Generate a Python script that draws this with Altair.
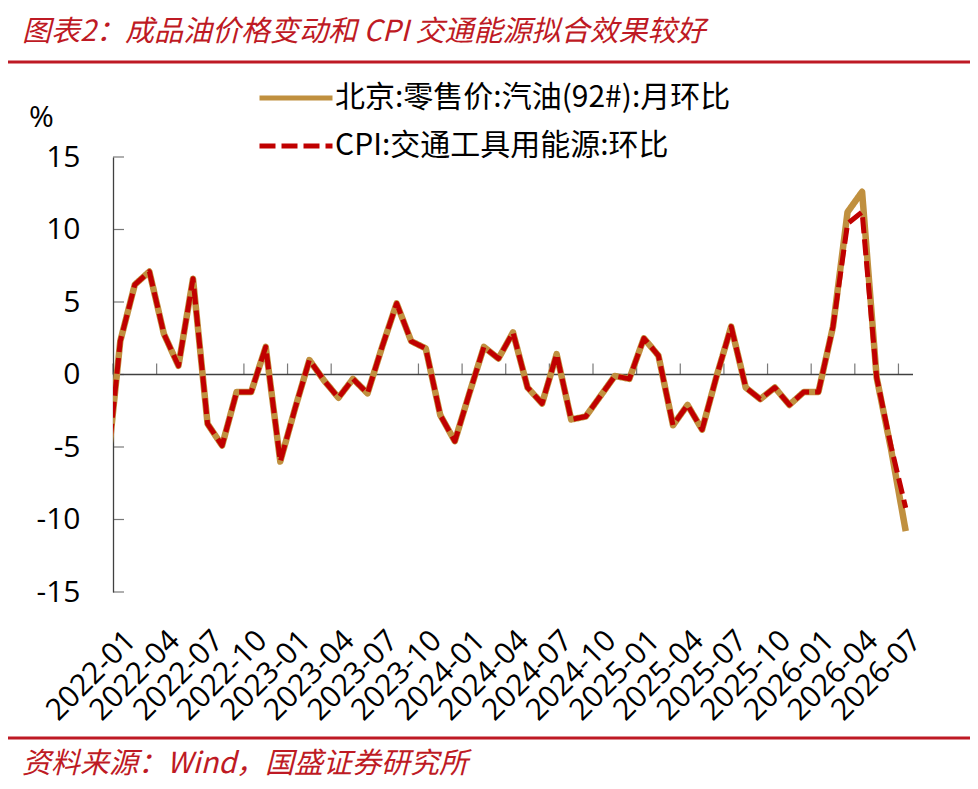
import altair as alt
import pandas as pd

# ---- data ----
months = ["2021-12"] + [f"{y}-{m:02d}" for y in range(2022, 2027) for m in range(1, 13)][:55]

gasoline = [-7.5,
            2.3, 6.2, 7.1, 2.8, 0.6, 6.6, -3.4, -4.9, -1.2, -1.2, 1.9, -6.0,
            -2.4, 1.0, -0.4, -1.6, -0.3, -1.3, 1.9, 4.9, 2.3, 1.8, -2.8, -4.6,
            -1.3, 1.9, 1.1, 2.9, -0.9, -2.0, 1.4, -3.1, -2.9, -1.5, -0.1, -0.3,
            2.5, 1.3, -3.5, -2.1, -3.8, -0.1, 3.3, -0.9, -1.7, -0.9, -2.1, -1.2,
            -1.2, 3.3, 11.2, 12.6, -0.2, -5.2, -10.8]

cpi_energy = [-7.5,
              2.3, 6.2, 7.1, 2.8, 0.6, 6.6, -3.4, -4.9, -1.2, -1.2, 1.9, -6.0,
              -2.4, 1.0, -0.4, -1.6, -0.3, -1.3, 1.9, 4.9, 2.3, 1.8, -2.8, -4.6,
              -1.3, 1.9, 1.1, 2.9, -0.9, -2.0, 1.4, -3.1, -2.9, -1.5, -0.1, -0.3,
              2.5, 1.3, -3.5, -2.1, -3.8, -0.1, 3.3, -0.9, -1.7, -0.9, -2.1, -1.2,
              -1.2, 3.3, 10.4, 11.2, -0.2, -5.0, -9.2]

series_names = ["北京:零售价:汽油(92#):月环比", "CPI:交通工具用能源:环比"]
series_colors = ["#C0903F", "#C00000"]
y_ticks = [-15, -10, -5, 0, 5, 10, 15]
x_label_idx = list(range(0, 55, 3))
x_tick_bounds = [i - 0.5 for i in range(0, 55, 3)]

title_text = "图表2：成品油价格变动和 CPI 交通能源拟合效果较好"
source_text = "资料来源：Wind，国盛证券研究所"

# ---- tables ----
idx = list(range(-1, 55))
df = pd.concat([
    pd.DataFrame({"idx": idx, "value": gasoline, "series": series_names[0]}),
    pd.DataFrame({"idx": idx, "value": cpi_energy, "series": series_names[1]}),
])

FONT = "Open Sans, Noto Sans CJK SC"
CJK = "Noto Sans CJK SC"
AXIS_COLOR = "#404040"
RED = "#BE1A24"

label_expr = "[" + ",".join(f"'{m}'" for m in months) + "][datum.value + 1]"

x_enc = alt.X("idx:Q",
              scale=alt.Scale(domain=[-0.5, 54.5], nice=False, zero=False),
              axis=alt.Axis(values=x_label_idx, labelExpr=label_expr, labelAngle=-45,
                            labelAlign="right", labelBaseline="top", labelPadding=33,
                            domain=False, ticks=False, tickSize=0, grid=False,
                            labelFontSize=30, labelFont=FONT, labelColor="black",
                            labelOverlap=False, labelFlush=False),
              title=None)
y_enc = alt.Y("value:Q",
              scale=alt.Scale(domain=[-15, 15], nice=False, zero=False),
              axis=alt.Axis(values=y_ticks, labelExpr="datum.value + ''",
                            grid=False, ticks=False, tickSize=0,
                            labelPadding=33, labelFontSize=30, labelFont=FONT,
                            labelColor="black", domainColor=AXIS_COLOR, domainWidth=1.3,
                            title="%", titleAngle=0, titleX=-72, titleY=-40,
                            titleAlign="center", titleBaseline="middle",
                            titleFontSize=30, titleFont=FONT, titleFontWeight="normal",
                            titleColor="black"))

color_enc = alt.Color("series:N", scale=alt.Scale(domain=series_names, range=series_colors),
                      title=None)
dash_enc = alt.StrokeDash("series:N",
                          scale=alt.Scale(domain=series_names, range=[[1, 0], [16, 6]]),
                          title=None)

base = alt.Chart(df)

gold_line = base.transform_filter(alt.datum.series == series_names[0]).mark_line(
    clip=True, strokeWidth=6.5, strokeJoin="round"
).encode(x=x_enc, y=y_enc, color=color_enc, strokeDash=dash_enc)

red_line = base.transform_filter(alt.datum.series == series_names[1]).mark_line(
    clip=True, strokeWidth=5, strokeJoin="round", strokeCap="butt"
).encode(x="idx:Q", y="value:Q", color=color_enc, strokeDash=dash_enc)

zero_line = alt.Chart(pd.DataFrame({"z": [0]})).mark_rule(
    color=AXIS_COLOR, strokeWidth=1.3).encode(y="z:Q")

x_ticks = alt.Chart(pd.DataFrame({"b": x_tick_bounds, "z": 0})).mark_tick(
    orient="vertical", size=11, thickness=1.2, color=AXIS_COLOR, yOffset=-5.5
).encode(x="b:Q", y="z:Q")

y_tick_marks = alt.Chart(pd.DataFrame({"t": y_ticks, "b": -0.5})).mark_tick(
    orient="horizontal", size=11, thickness=1.2, color=AXIS_COLOR, xOffset=5.5
).encode(x="b:Q", y="t:Q")

one = alt.Data(values=[{"a": 1}])
title_mark = alt.Chart(one).mark_text(
    text=title_text, align="left", baseline="middle", font=CJK, fontSize=29,
    fontStyle="italic", color=RED
).encode(x=alt.value(-91), y=alt.value(-125))
source_mark = alt.Chart(one).mark_text(
    text=source_text, align="left", baseline="middle", font=CJK, fontSize=29,
    fontStyle="italic", color=RED
).encode(x=alt.value(-91), y=alt.value(607))
top_rule = alt.Chart(one).mark_rule(color=RED, strokeWidth=3).encode(
    x=alt.value(-105), x2=alt.value(857), y=alt.value(-95))
bottom_rule = alt.Chart(one).mark_rule(color=RED, strokeWidth=3).encode(
    x=alt.value(-105), x2=alt.value(857), y=alt.value(581))

chart = alt.layer(
    zero_line, x_ticks, y_tick_marks, gold_line, red_line,
    title_mark, source_mark, top_rule, bottom_rule
).properties(
    width=800, height=435,
    padding={"left": 105, "top": 149, "right": 57, "bottom": 193},
    autosize=alt.AutoSizeParams(type="none"),
    background="white",
).configure_view(
    strokeWidth=0
).configure_legend(
    orient="none", legendX=144, legendY=-74,
    labelFontSize=30, labelFont=CJK, labelColor="black", labelLimit=900,
    symbolType="stroke", symbolSize=5329, symbolStrokeWidth=5,
    clipHeight=30, rowPadding=18, labelOffset=0, padding=0,
)

chart.save("out.html", embed_options={"renderer": "svg", "actions": False})
